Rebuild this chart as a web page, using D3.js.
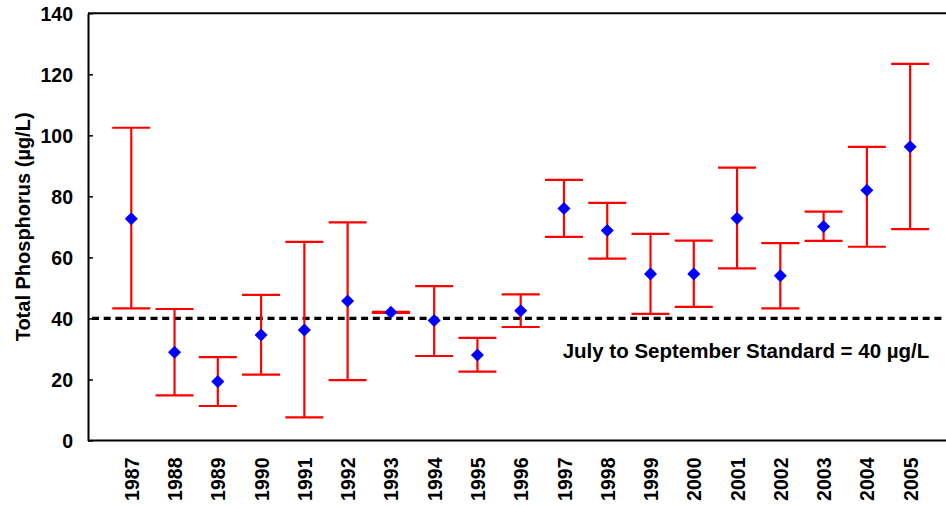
<!DOCTYPE html>
<html>
<head>
<meta charset="utf-8">
<script src="https://cdn.jsdelivr.net/npm/d3@7"></script>
<style>
  html, body { margin: 0; padding: 0; background: #fff; }
  svg { display: block; }
  text { font-family: "Liberation Sans", Arial, sans-serif; font-weight: bold; fill: #000; }
</style>
</head>
<body>
<svg id="chart" width="946" height="506"></svg>
<script>
// Annual mean total phosphorus with the range shown as error bars
const years = ["1987","1988","1989","1990","1991","1992","1993","1994","1995","1996",
               "1997","1998","1999","2000","2001","2002","2003","2004","2005"];
const meanTP = [72.7, 28.9, 19.3, 34.6, 36.2, 45.7, 42.0, 39.3, 28.0, 42.5,
                76.0, 68.8, 54.6, 54.6, 72.8, 54.0, 70.1, 82.0, 96.3];
const lowTP  = [43.3, 14.8, 11.3, 21.6, 7.6, 19.8, 41.8, 27.7, 22.6, 37.2,
                66.7, 59.6, 41.5, 43.8, 56.4, 43.3, 65.4, 63.5, 69.3];
const highTP = [102.5, 43.1, 27.3, 47.7, 65.1, 71.5, 42.2, 50.6, 33.6, 47.9,
                85.4, 77.9, 67.7, 65.5, 89.4, 64.7, 75.0, 96.2, 123.4];
const yTicks = [0, 20, 40, 60, 80, 100, 120, 140];
const standard = 40;
const standardLabel = "July to September Standard = 40 \u00b5g/L";
const yTitle = "Total Phosphorus (\u00b5g/L)";

const svg = d3.select("#chart");
const plot = { left: 88, right: 953.4, top: 13.3, bottom: 440.5 };

const x = d3.scalePoint().domain(years).range([plot.left, plot.right]).padding(1);
const y = d3.scaleLinear().domain([0, 140]).range([plot.bottom, plot.top]);

// frame: top line
svg.append("line")
  .attr("x1", plot.left).attr("x2", plot.right)
  .attr("y1", y(140)).attr("y2", y(140))
  .attr("stroke", "#000").attr("stroke-width", 2);

// y axis with inward ticks
const yAxis = svg.append("g")
  .attr("transform", `translate(${plot.left},0)`)
  .call(d3.axisRight(y).tickValues(yTicks).tickSize(5).tickSizeOuter(0).tickFormat(d3.format("d")));
yAxis.select(".domain").attr("stroke", "#000").attr("stroke-width", 2);
yAxis.selectAll(".tick line").attr("stroke", "#000").attr("stroke-width", 1.5);
yAxis.selectAll(".tick text")
  .attr("x", -15).attr("text-anchor", "end")
  .attr("dy", "0.36em")
  .style("font-size", "19.5px")
  .style("font-family", "Liberation Sans, Arial, sans-serif")
  .style("font-weight", "bold");

// x axis: baseline and rotated year labels
const xAxis = svg.append("g")
  .attr("transform", `translate(0,${plot.bottom})`)
  .call(d3.axisBottom(x).tickSize(0).tickSizeOuter(0));
xAxis.select(".domain").attr("stroke", "#000").attr("stroke-width", 2)
  .attr("d", `M${plot.left},0H${plot.right}`);
xAxis.selectAll(".tick text")
  .attr("transform", "rotate(-90)")
  .attr("x", -17).attr("y", 0).attr("dy", "0.36em")
  .attr("text-anchor", "end")
  .style("font-size", "19.5px")
  .style("font-family", "Liberation Sans, Arial, sans-serif")
  .style("font-weight", "bold");

// standard line
svg.append("line")
  .attr("x1", plot.left + 4).attr("x2", plot.right)
  .attr("y1", y(standard)).attr("y2", y(standard))
  .attr("stroke", "#000").attr("stroke-width", 3.3)
  .attr("stroke-dasharray", "7,4.7");

svg.append("text")
  .attr("x", 746).attr("y", 358)
  .attr("text-anchor", "middle")
  .style("font-size", "20.5px")
  .text(standardLabel);

// error bars
const capHalf = 19;
const bars = svg.append("g").attr("stroke", "#ff0000").attr("stroke-width", 2.2).attr("fill", "none");
years.forEach((yr, i) => {
  const cx = x(yr);
  bars.append("line").attr("x1", cx).attr("x2", cx).attr("y1", y(lowTP[i])).attr("y2", y(highTP[i]));
  bars.append("line").attr("x1", cx - capHalf).attr("x2", cx + capHalf).attr("y1", y(highTP[i])).attr("y2", y(highTP[i]));
  bars.append("line").attr("x1", cx - capHalf).attr("x2", cx + capHalf).attr("y1", y(lowTP[i])).attr("y2", y(lowTP[i]));
});

// mean markers (diamonds)
const diamond = d3.symbol().type(d3.symbolSquare).size(85);
svg.append("g").selectAll("path")
  .data(years)
  .join("path")
  .attr("d", diamond)
  .attr("transform", (d, i) => `translate(${x(d)},${y(meanTP[i])}) rotate(45)`)
  .attr("fill", "#0000ff");

// y axis title
svg.append("text")
  .attr("transform", `translate(30,${(plot.top + plot.bottom) / 2}) rotate(-90)`)
  .attr("text-anchor", "middle")
  .style("font-size", "20px")
  .text(yTitle);
</script>
</body>
</html>
